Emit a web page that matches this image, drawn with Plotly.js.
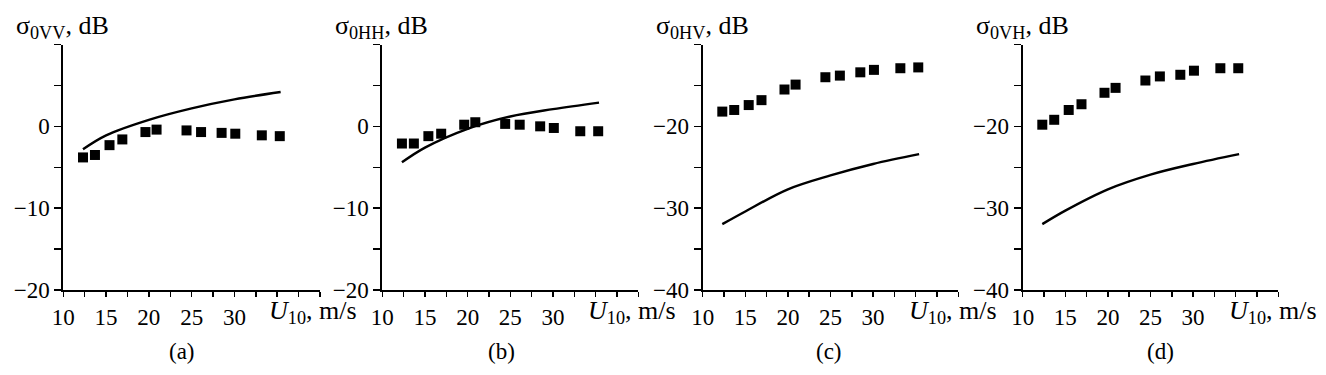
<!DOCTYPE html>
<html>
<head>
<meta charset="utf-8">
<script src="https://cdn.plot.ly/plotly-3.0.1.min.js"></script>
<style>html,body{margin:0;padding:0;background:#fff;}#chart{width:1326px;height:375px;}</style>
</head>
<body>
<div id="chart"></div>
<script>
// Wind speed U10 (m/s) of measured points
const windSpeed = [12.3, 13.7, 15.4, 16.9, 19.6, 20.9, 24.4, 26.1, 28.5, 30.1, 33.2, 35.3];
// Measured sigma0 (dB)
const measVV = [-3.8, -3.5, -2.3, -1.6, -0.7, -0.4, -0.5, -0.7, -0.8, -0.9, -1.1, -1.2];
const measHH = [-2.1, -2.1, -1.2, -0.9, 0.2, 0.5, 0.3, 0.2, 0.0, -0.2, -0.6, -0.6];
const measHV = [-18.2, -18.0, -17.4, -16.8, -15.5, -14.9, -14.0, -13.8, -13.4, -13.1, -12.9, -12.8];
const measVH = [-19.8, -19.2, -18.0, -17.3, -15.9, -15.3, -14.4, -13.9, -13.7, -13.2, -12.9, -12.9];
// Model curves
const modelWind = [12.3, 15, 20, 25, 30, 35.4];
const modelVV = [-2.8, -1.1, 0.8, 2.2, 3.3, 4.2];
const modelHH = [-4.4, -2.6, -0.3, 1.2, 2.1, 2.9];
const modelHV = [-31.95, -30.4, -27.7, -26.0, -24.6, -23.4];
const modelVH = [-31.95, -30.3, -27.7, -25.9, -24.6, -23.4];

const panelTitles = ['σ<sub>0VV</sub>, dB', 'σ<sub>0HH</sub>, dB', 'σ<sub>0HV</sub>, dB', 'σ<sub>0VH</sub>, dB'];
const panelLetters = ['(a)', '(b)', '(c)', '(d)'];
const xTickVals = [10, 15, 20, 25, 30];
const xTickText = ['10', '15', '20', '25', '30'];
const xMinorVals = [12.5, 17.5, 22.5, 27.5, 32.5, 35, 37.5, 40];
const yTickValsCo = [-20, -10, 0];
const yTickTextCo = ['\u221220', '\u221210', '0'];
const yMinorCo = [-15, -5, 5, 10];
const yTickValsCross = [-40, -30, -20];
const yTickTextCross = ['\u221240', '\u221230', '\u221220'];
const yMinorCross = [-35, -25, -15, -10];

const W = 1326, H = 375;
const FONT = 'Liberation Serif';
const FS = 23;
const FT = 26;
const axisLeft = [63.3, 382.3, 702.7, 1022.7];
const axisRight = [320, 638.3, 958.3, 1278.3];
const uLabelLeft = [267, 586, 907, 1227];
const letterCenter = [182, 501, 829, 1160];
const measSets = [measVV, measHH, measHV, measVH];
const modelSets = [modelVV, modelHH, modelHV, modelVH];

const data = [];
const layout = {
  width: W, height: H,
  margin: {l: 0, r: 0, t: 0, b: 0},
  paper_bgcolor: '#fff', plot_bgcolor: '#fff',
  showlegend: false,
  font: {family: FONT, size: FS, color: '#000'},
  annotations: []
};

for (let i = 0; i < 4; i++) {
  const sx = i === 0 ? '' : String(i + 1);
  const xa = 'x' + sx, ya = 'y' + sx;
  data.push({
    x: modelWind, y: modelSets[i], xaxis: xa, yaxis: ya,
    mode: 'lines', line: {color: '#000', width: 2.4, shape: 'spline', smoothing: 1},
    hoverinfo: 'skip'
  });
  data.push({
    x: windSpeed, y: measSets[i], xaxis: xa, yaxis: ya,
    mode: 'markers', marker: {symbol: 'square', size: 10, color: '#000'},
    cliponaxis: false
  });
  const cross = i >= 2;
  layout['xaxis' + sx] = {
    domain: [axisLeft[i] / W, axisRight[i] / W],
    anchor: ya, range: [10, 40], fixedrange: true,
    showgrid: false, zeroline: false, showline: true, linecolor: '#000', linewidth: 2,
    ticks: 'outside', ticklen: 5, tickwidth: 1.5, tickcolor: '#000',
    tickmode: 'array', tickvals: xTickVals, ticktext: xTickText,
    minor: {tickmode: 'array', tickvals: xMinorVals, ticks: 'outside', ticklen: 5, tickwidth: 1.5, tickcolor: '#000', showgrid: false},
    tickfont: {family: FONT, size: FS, color: '#000'}, automargin: false
  };
  layout['yaxis' + sx] = {
    domain: [(H - 290) / H, (H - 44.5) / H],
    anchor: xa, range: cross ? [-40, -10] : [-20, 10], fixedrange: true,
    showgrid: false, zeroline: false, showline: true, linecolor: '#000', linewidth: 2,
    ticks: 'outside', ticklen: 7, tickwidth: 1.5, tickcolor: '#000',
    tickmode: 'array', tickvals: cross ? yTickValsCross : yTickValsCo,
    ticktext: cross ? yTickTextCross : yTickTextCo,
    minor: {tickmode: 'array', tickvals: cross ? yMinorCross : yMinorCo, ticks: 'outside', ticklen: 7, tickwidth: 1.5, tickcolor: '#000', showgrid: false},
    tickfont: {family: FONT, size: FS, color: '#000'}, automargin: false, ticklabelstandoff: 0
  };
  layout.annotations.push({
    xref: 'paper', yref: 'paper', x: (axisLeft[i] - 49) / W, y: 1 - 27 / H,
    xanchor: 'left', yanchor: 'middle', showarrow: false,
    text: panelTitles[i], font: {family: FONT, size: FT, color: '#000'}
  });
  layout.annotations.push({
    xref: 'paper', yref: 'paper', x: uLabelLeft[i] / W, y: 1 - 312 / H,
    xanchor: 'left', yanchor: 'middle', showarrow: false,
    text: '<i>U</i><sub>10</sub>, m/s', font: {family: FONT, size: FT, color: '#000'}
  });
  layout.annotations.push({
    xref: 'paper', yref: 'paper', x: letterCenter[i] / W, y: 1 - 351 / H,
    xanchor: 'center', yanchor: 'middle', showarrow: false,
    text: panelLetters[i], font: {family: FONT, size: FS, color: '#000'}
  });
}

Plotly.newPlot('chart', data, layout, {staticPlot: true, displayModeBar: false});
</script>
</body>
</html>
